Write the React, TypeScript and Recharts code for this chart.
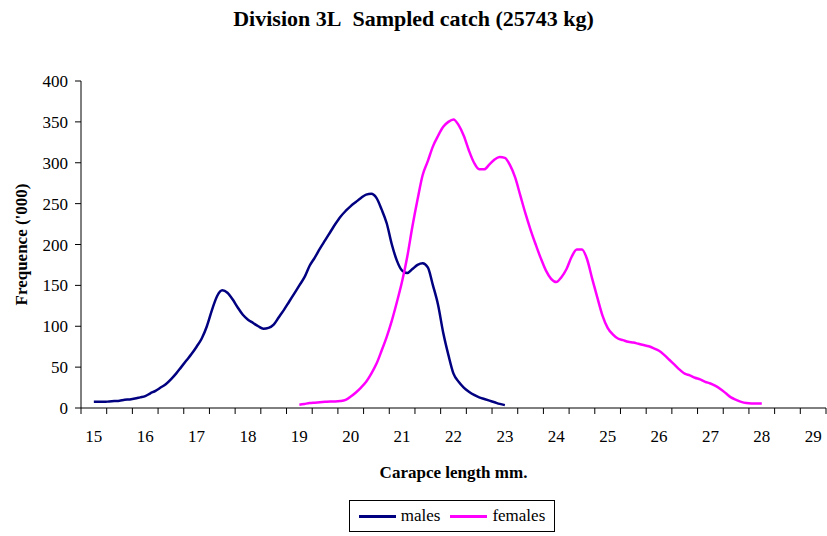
import React from 'react';
import { LineChart, Line, XAxis, YAxis, Legend } from 'recharts';

// carapace length classes start / step (mm)
const maleStart = 15.0;
const femaleStart = 19.0;
const lengthStep = 0.1;

// frequencies ('000)
const maleFreq = [
  7.5, 7.5, 7.5, 8, 8.5, 9, 10, 10.5, 11.5, 13,
  14.5, 18, 21, 25, 29, 35, 42, 50, 58, 66,
  75, 85, 100, 120, 137, 144, 141, 133, 123, 114,
  108, 104, 100, 97, 98, 102, 111, 120, 130, 140,
  150, 160, 174, 184, 195, 205, 215, 225, 234, 241,
  247, 252, 257, 261, 262, 257, 243, 226, 200, 180,
  168, 165, 170, 175, 177, 172, 150, 126, 92, 65,
  42, 32, 25, 20, 16, 13, 11, 9, 7, 5,
  3.5,
];

const femaleFreq = [
  4, 5, 6, 6.5, 7, 7.5, 8, 8, 8.5, 10,
  14, 19, 25, 32, 42, 54, 70, 87, 107, 130,
  155, 185, 222, 255, 285, 302, 320, 333, 344, 350,
  353, 346, 333, 315, 300, 292, 292, 298, 304, 307,
  306, 297, 282, 260, 238, 218, 200, 183, 168, 158,
  154, 160, 170, 185, 194, 194, 182, 158, 135, 113,
  98, 90, 85, 83, 81, 80, 78.5, 77, 75.5, 73,
  70, 65, 59, 53, 47, 42, 40, 37, 35, 32,
  30, 27, 23, 18, 13, 10, 7.5, 6, 5.5, 5.5,
  5.5,
];

const xLabels = [15, 16, 17, 18, 19, 20, 21, 22, 23, 24, 25, 26, 27, 28, 29];
const yTicks = [0, 50, 100, 150, 200, 250, 300, 350, 400];

const toRows = (start: number, values: number[]) =>
  values.map((v, i) => ({ len: Math.round((start + i * lengthStep) * 10) / 10, v }));

const maleData = toRows(maleStart, maleFreq);
const femaleData = toRows(femaleStart, femaleFreq);

// quarter-mm positions: tick marks sit between the 0.5 mm classes, labels on whole mm
const xDomain = [xLabels[0] - 0.25, xLabels[xLabels.length - 1] + 0.25];
const xTicks = Array.from(
  { length: Math.round((xDomain[1] - xDomain[0]) / 0.25) + 1 },
  (_, i) => xDomain[0] + i * 0.25,
);

const FONT = '"Liberation Serif", "Times New Roman", serif';

const XTick = (props: any) => {
  const { x, y, payload } = props;
  const q = Math.round(payload.value * 4);
  if (q % 4 === 0) {
    return (
      <text x={x} y={y + 34} textAnchor="middle" fontSize={17} fill="#000" fontFamily={FONT}>
        {payload.value}
      </text>
    );
  }
  if (Math.abs(q % 2) === 1) {
    return <line x1={x} y1={y} x2={x} y2={y + 6} stroke="#000" strokeWidth={1} />;
  }
  return <g />;
};

const LegendBox = () => (
  <div
    style={{
      boxSizing: 'border-box',
      width: 206,
      height: 32,
      border: '1px solid #000',
      display: 'flex',
      alignItems: 'center',
      justifyContent: 'center',
      fontFamily: FONT,
      fontSize: 17,
      color: '#000',
      background: '#fff',
    }}
  >
    <span style={{ display: 'inline-block', width: 37, height: 3, background: '#000080', marginRight: 5 }} />
    <span style={{ marginRight: 10 }}>males</span>
    <span style={{ display: 'inline-block', width: 37, height: 3, background: '#FF00FF', marginRight: 5 }} />
    <span>females</span>
  </div>
);

export default function App() {
  return (
    <div style={{ position: 'absolute', left: 0, top: 0, width: 827, height: 536, background: '#fff', fontFamily: FONT }}>
      <div
        style={{
          position: 'absolute',
          top: 6,
          left: 0,
          width: 827,
          textAlign: 'center',
          fontWeight: 'bold',
          fontSize: 22,
        }}
      >
        Division 3L&nbsp;&nbsp;Sampled catch (25743 kg)
      </div>
      <LineChart width={827} height={536} margin={{ top: 81, right: 1, left: 0, bottom: 4 }}>
        <XAxis
          type="number"
          dataKey="len"
          domain={xDomain}
          ticks={xTicks}
          interval={0}
          allowDataOverflow
          tickLine={false}
          tickSize={0}
          tickMargin={0}
          tick={<XTick />}
          axisLine={{ stroke: '#000' }}
          height={92}
          label={{
            value: 'Carapce length mm.',
            position: 'insideBottom',
            offset: 22,
            style: { fontWeight: 'bold', fontSize: 17, fill: '#000', fontFamily: FONT },
          }}
        />
        <YAxis
          type="number"
          domain={[0, 400]}
          ticks={yTicks}
          interval={0}
          width={81}
          tickSize={6}
          tickMargin={7}
          tick={{ fill: '#000', fontSize: 17, fontFamily: FONT }}
          tickLine={{ stroke: '#000' }}
          axisLine={{ stroke: '#000' }}
          label={{
            content: (p: any) => {
              const vb = p.viewBox;
              const cy = vb.y + vb.height / 2;
              return (
                <text
                  x={21}
                  y={cy}
                  transform={`rotate(-90, 21, ${cy})`}
                  textAnchor="middle"
                  dominantBaseline="central"
                  fontWeight="bold"
                  fontSize={17}
                  fill="#000"
                  fontFamily={FONT}
                >
                  Frequence ('000)
                </text>
              );
            },
          }}
        />
        <Legend
          verticalAlign="bottom"
          height={32}
          wrapperStyle={{ left: 349, width: 206 }}
          content={() => <LegendBox />}
        />
        <Line
          data={maleData}
          dataKey="v"
          name="males"
          type="monotone"
          stroke="#000080"
          strokeWidth={2.5}
          dot={false}
          isAnimationActive={false}
        />
        <Line
          data={femaleData}
          dataKey="v"
          name="females"
          type="monotone"
          stroke="#FF00FF"
          strokeWidth={2.5}
          dot={false}
          isAnimationActive={false}
        />
      </LineChart>
    </div>
  );
}
